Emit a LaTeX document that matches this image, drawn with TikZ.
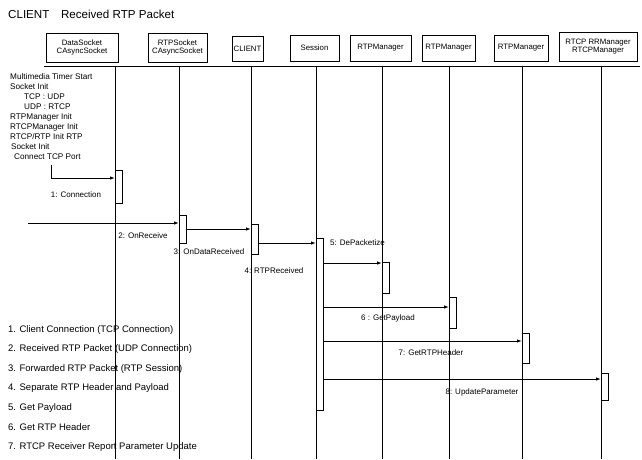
\documentclass[tikz,border=0pt]{standalone}
\usepackage{fontspec}
\setmainfont{Liberation Sans}
\usetikzlibrary{arrows.meta}
\begin{document}
\begin{tikzpicture}[x=1pt,y=-1pt,
  hdr/.style={draw,line width=0.9pt,inner sep=1pt,align=center,font=\fontsize{7.8}{8.8}\selectfont},
  act/.style={draw,line width=0.9pt,fill=white,minimum width=7pt,inner sep=0pt,anchor=north west},
  life/.style={line width=0.8pt},
  msg/.style={line width=0.9pt,-{Latex[length=5pt,width=3.5pt]}},
  lbl/.style={font=\fontsize{8}{9}\selectfont,inner sep=0pt},
  note/.style={font=\fontsize{8.2}{9}\selectfont,inner sep=0pt,anchor=west},
  leg/.style={font=\fontsize{9.5}{10}\selectfont,inner sep=0pt,anchor=west}]
\useasboundingbox (0,0) rectangle (642,459);
% title
\node[inner sep=0pt,anchor=west,font=\fontsize{11.6}{12}\selectfont] (title) at (8,14) {CLIENT\quad Received RTP Packet};
% header boxes
\node[hdr,minimum width=72pt,minimum height=29pt] (h1) at (82,47.5) {DataSocket\\CAsyncSocket};
\node[hdr,minimum width=59pt,minimum height=29pt] (h2) at (177.5,47.5) {RTPSocket\\CAsyncSocket};
\node[hdr,minimum width=31pt,minimum height=25pt] (h3) at (247.5,48.5) {CLIENT};
\node[hdr,minimum width=49pt,minimum height=26pt] (h4) at (314.5,48) {Session};
\node[hdr,minimum width=61pt,minimum height=26pt] (h5) at (380.5,48) {RTPManager};
\node[hdr,minimum width=53pt,minimum height=26pt] (h6) at (448.5,48) {RTPManager};
\node[hdr,minimum width=54pt,minimum height=26pt] (h7) at (521,48) {RTPManager};
\node[hdr,minimum width=78pt,minimum height=29pt] (h8) at (598,46.5) {RTCP RRManager\\RTCPManager};
% separator line
\coordinate (sepL) at (44,66);
\coordinate (sepR) at (640,66);
\draw[line width=0.7pt] (sepL) -- (sepR);
% lifelines
\foreach \n/\x in {1/115,2/179,3/251,4/316,5/382,6/449,7/522,8/601}{
  \coordinate (lt\n) at (\x,66);
  \coordinate (lb\n) at (\x,459);
  \draw[life] (lt\n) -- (lb\n);
}
% left notes
\node[note] (n1) at (10,77) {Multimedia Timer Start};
\node[note] (n2) at (10,87) {Socket Init};
\node[note] (n3) at (24,97) {TCP : UDP};
\node[note] (n4) at (24,107) {UDP : RTCP};
\node[note] (n5) at (10,117) {RTPManager Init};
\node[note] (n6) at (10,127) {RTCPManager Init};
\node[note] (n7) at (10,137) {RTCP/RTP Init RTP};
\node[note] (n8) at (11,147) {Socket Init};
\node[note] (n9) at (14,157) {Connect TCP Port};
% activations
\node[act,minimum height=33pt] (a1) at (115,170) {};
\node[act,minimum height=28pt] (a2) at (179,215) {};
\node[act,minimum height=30pt] (a3) at (251,224) {};
\node[act,minimum height=172pt] (a4) at (316,238) {};
\node[act,minimum height=31pt] (a5) at (382,262) {};
\node[act,minimum height=31pt] (a6) at (449,297) {};
\node[act,minimum height=30pt] (a7) at (522,333) {};
\node[act,minimum height=27pt] (a8) at (601,373) {};
% messages
\coordinate (m1s) at (51,165);
\coordinate (m1) at (51,178);
\draw[msg] (m1s) -- (m1) -- (a1.west |- m1);
\node[lbl] (l1) at (76,195) {1: Connection};
\coordinate (m2s) at (28,223);
\draw[msg] (m2s) -- (a2.west |- m2s);
\node[lbl] (l2) at (143,236) {2: OnReceive};
\coordinate (m3) at (0,229);
\draw[msg] (a2.east |- m3) -- (a3.west |- m3);
\node[lbl] (l3) at (209,252) {3: OnDataReceived};
\coordinate (m4) at (0,243);
\draw[msg] (a3.east |- m4) -- (a4.west |- m4);
\node[lbl] (l4) at (274,271) {4: RTPReceived};
\coordinate (m5) at (0,263);
\draw[msg] (a4.east |- m5) -- (a5.west |- m5);
\node[lbl,anchor=west] (l5) at (330,243) {5: DePacketize};
\coordinate (m6) at (0,307);
\draw[msg] (a4.east |- m6) -- (a6.west |- m6);
\node[lbl] (l6) at (388,318) {6 : GetPayload};
\coordinate (m7) at (0,341);
\draw[msg] (a4.east |- m7) -- (a7.west |- m7);
\node[lbl] (l7) at (431,353) {7: GetRTPHeader};
\coordinate (m8) at (0,379);
\draw[msg] (a4.east |- m8) -- (a8.west |- m8);
\node[lbl] (l8) at (482,392) {8: UpdateParameter};
% legend
\node[leg] (g1) at (8,330) {1. Client Connection (TCP Connection)};
\node[leg] (g2) at (8,349.5) {2. Received RTP Packet (UDP Connection)};
\node[leg] (g3) at (8,369) {3. Forwarded RTP Packet (RTP Session)};
\node[leg] (g4) at (8,388.5) {4. Separate RTP Header and Payload};
\node[leg] (g5) at (8,408) {5. Get Payload};
\node[leg] (g6) at (8,427.5) {6. Get RTP Header};
\node[leg] (g7) at (8,447) {7. RTCP Receiver Report Parameter Update};
\end{tikzpicture}
\end{document}
